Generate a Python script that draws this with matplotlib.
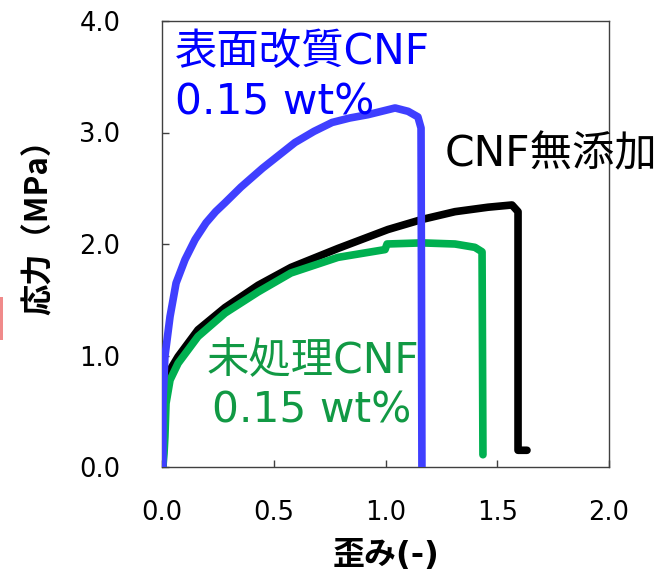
import matplotlib
matplotlib.use("Agg")
import matplotlib.pyplot as plt
from matplotlib.patches import Rectangle

plt.rcParams['font.family'] = ['DejaVu Sans', 'Noto Sans CJK JP']

# strain (-) / stress (MPa)
blue_x = [0.004, 0.004, 0.013, 0.036, 0.063, 0.103, 0.148, 0.197, 0.24, 0.282, 0.353, 0.45,
          0.595, 0.68, 0.761, 0.84, 0.922, 1.043, 1.101, 1.145, 1.159, 1.163]
blue_y = [0.0, 0.57, 0.99, 1.35, 1.65, 1.86, 2.04, 2.19, 2.29, 2.37, 2.51, 2.68,
          2.91, 3.01, 3.09, 3.13, 3.16, 3.22, 3.19, 3.14, 3.04, 0.0]

black_x = [0.004, 0.009, 0.018, 0.036, 0.072, 0.161, 0.282, 0.430, 0.577, 0.787,
           1.011, 1.163, 1.311, 1.459, 1.566, 1.593, 1.593, 1.633]
black_y = [0.0, 0.50, 0.75, 0.87, 0.99, 1.23, 1.43, 1.63, 1.79, 1.96,
           2.13, 2.22, 2.29, 2.33, 2.35, 2.29, 0.15, 0.15]

green_x = [0.004, 0.009, 0.013, 0.018, 0.036, 0.072, 0.161, 0.282, 0.430, 0.577,
           0.787, 0.998, 1.007, 1.163, 1.311, 1.400, 1.432, 1.436]
green_y = [0.0, 0.12, 0.27, 0.57, 0.78, 0.93, 1.17, 1.38, 1.57, 1.74,
           1.88, 1.95, 2.00, 2.01, 2.00, 1.97, 1.93, 0.11]

xticks = [0.0, 0.5, 1.0, 1.5, 2.0]
yticks = [0.0, 1.0, 2.0, 3.0, 4.0]

blue_line = '#3F3FFF'
green_line = '#00B050'
blue_text = '#0000FF'
green_text = '#119944'

fig = plt.figure(figsize=(6.71, 5.74), dpi=100)
ax = fig.add_axes([162 / 671, 107 / 574, 447 / 671, 446 / 574])

kw = dict(linewidth=5.5, solid_capstyle='round', solid_joinstyle='round')
ax.plot(black_x, black_y, color='black', zorder=2, **kw)
ax.plot(green_x, green_y, color=green_line, zorder=3, **kw)
ax.plot(blue_x, blue_y, color=blue_line, zorder=4, **kw)

ax.set_xlim(0, 2.0)
ax.set_ylim(0, 4.0)
ax.set_xticks(xticks)
ax.set_yticks(yticks)
ax.set_xticklabels([f'{v:.1f}' for v in xticks])
ax.set_yticklabels([f'{v:.1f}' for v in yticks])
ax.tick_params(direction='in', length=5, width=1, color='#404040', labelsize=18.5)
ax.tick_params(axis='x', pad=24)
ax.tick_params(axis='y', pad=30)
for s in ax.spines.values():
    s.set_color('#404040')
    s.set_linewidth(1)

ax.set_xlabel('歪み(-)', fontsize=23, fontweight='bold')
ax.set_ylabel('応力（MPa）', fontsize=22.5, fontweight='bold',
              family=['Noto Sans CJK JP'])
ax.xaxis.set_label_coords(0.5, -0.163)
ax.yaxis.set_label_coords(-0.24, 0.555)

tkw = dict(fontsize=30.5, ha='left', va='center', zorder=5)
ax.text(0.058, 3.72, '表面改質CNF', color=blue_text, **tkw)
ax.text(0.058, 3.27, '0.15 wt%', color=blue_text, **tkw)
ax.text(1.266, 2.80, 'CNF無添加', color='black', clip_on=False, **tkw)
ax.text(0.20, 0.95, '未処理CNF', color=green_text, **tkw)
ax.text(0.224, 0.51, '0.15 wt%', color=green_text, **tkw)

# bit of a red box cut off at the left edge
fig.patches.append(Rectangle((0, 234 / 574), 3 / 671, 43 / 574,
                             transform=fig.transFigure, color='#F08A8A',
                             linewidth=0))

fig.savefig('out.png', dpi=100)
